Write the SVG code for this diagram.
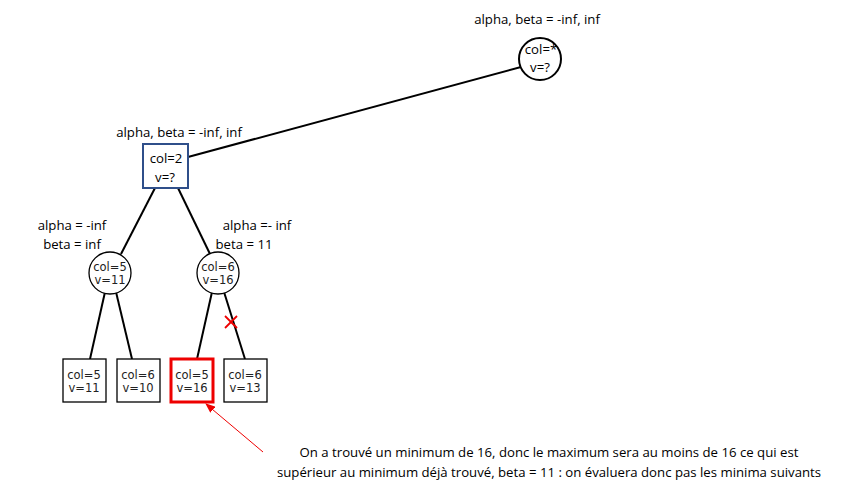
<svg xmlns="http://www.w3.org/2000/svg" width="861" height="498" viewBox="0 0 861 498">
<defs>
<style>
.lbl{font-family:"Open Sans","Liberation Sans",sans-serif;font-size:13.2px;fill:#000;text-anchor:middle}
.nt{font-family:"DejaVu Sans",sans-serif;font-size:11.5px;fill:#222;text-anchor:middle}
.edge{stroke:#000;stroke-width:2;fill:none}
.leaf{fill:#fff;stroke:#000;stroke-width:1.3}
.circ{fill:#fff;stroke:#000;stroke-width:1.3}
</style>
<marker id="ah" markerWidth="10" markerHeight="8" refX="9" refY="4" orient="auto" markerUnits="userSpaceOnUse">
<path d="M0,0 L10,4 L0,8 Z" fill="#e00"/>
</marker>
</defs>
<rect width="861" height="498" fill="#fff"/>
<g id="connectors">
<line class="edge" x1="521" y1="67" x2="188" y2="157"/>
<line class="edge" x1="155" y1="188" x2="121" y2="254"/>
<line class="edge" x1="178" y1="188" x2="210" y2="254"/>
<line class="edge" x1="105" y1="292" x2="90" y2="359"/>
<line class="edge" x1="116" y1="292" x2="132" y2="359"/>
<line class="edge" x1="212" y1="292" x2="197" y2="359"/>
<line class="edge" x1="224" y1="292" x2="245" y2="359"/>
<line x1="263" y1="452" x2="206" y2="404" stroke="#e00" stroke-width="1" marker-end="url(#ah)"/>
</g>
<g id="cut">
<line x1="225" y1="316" x2="237" y2="328" stroke="#e00" stroke-width="1.8"/>
<line x1="237" y1="316" x2="225" y2="328" stroke="#e00" stroke-width="1.8"/>
</g>
<g id="root">
<text class="lbl" x="537" y="24">alpha, beta = -inf, inf</text>
<circle cx="540" cy="59" r="21" fill="#fff" stroke="#000" stroke-width="2"/>
<text class="lbl" x="541" y="54">col=*</text>
<text class="lbl" x="540" y="72">v=?</text>
</g>
<g id="n2">
<text class="lbl" x="179" y="137">alpha, beta = -inf, inf</text>
<rect x="143" y="144" width="45" height="44" fill="#fff" stroke="#2f4f8a" stroke-width="2"/>
<text class="lbl" x="166" y="163">col=2</text>
<text class="lbl" x="165" y="182">v=?</text>
</g>
<g id="n5">
<text class="lbl" x="72" y="230">alpha = -inf</text>
<text class="lbl" x="72" y="249">beta = inf</text>
<circle class="circ" cx="110" cy="273" r="21"/>
<text class="nt" x="110" y="271">col=5</text>
<text class="nt" x="110" y="284">v=11</text>
</g>
<g id="n6">
<text class="lbl" x="257" y="230">alpha =- inf</text>
<text class="lbl" x="244" y="249">beta = 11</text>
<circle class="circ" cx="218" cy="273" r="21"/>
<text class="nt" x="218" y="271">col=6</text>
<text class="nt" x="218" y="284">v=16</text>
</g>
<g id="l1">
<rect class="leaf" x="63" y="359" width="43" height="43"/>
<text class="nt" x="84" y="379">col=5</text>
<text class="nt" x="84" y="392">v=11</text>
</g>
<g id="l2">
<rect class="leaf" x="117" y="359" width="43" height="43"/>
<text class="nt" x="138" y="379">col=6</text>
<text class="nt" x="138" y="392">v=10</text>
</g>
<g id="l3">
<rect x="171" y="359" width="42" height="43" fill="#fff" stroke="#e00" stroke-width="3"/>
<text class="nt" x="192" y="379">col=5</text>
<text class="nt" x="192" y="392">v=16</text>
</g>
<g id="l4">
<rect class="leaf" x="224" y="359" width="43" height="43"/>
<text class="nt" x="245" y="379">col=6</text>
<text class="nt" x="245" y="392">v=13</text>
</g>
<g id="note">
<text class="lbl" x="549" y="457">On a trouvé un minimum de 16, donc le maximum sera au moins de 16 ce qui est</text>
<text class="lbl" x="549" y="477">supérieur au minimum déjà trouvé, beta = 11 : on évaluera donc pas les minima suivants</text>
</g>
</svg>
